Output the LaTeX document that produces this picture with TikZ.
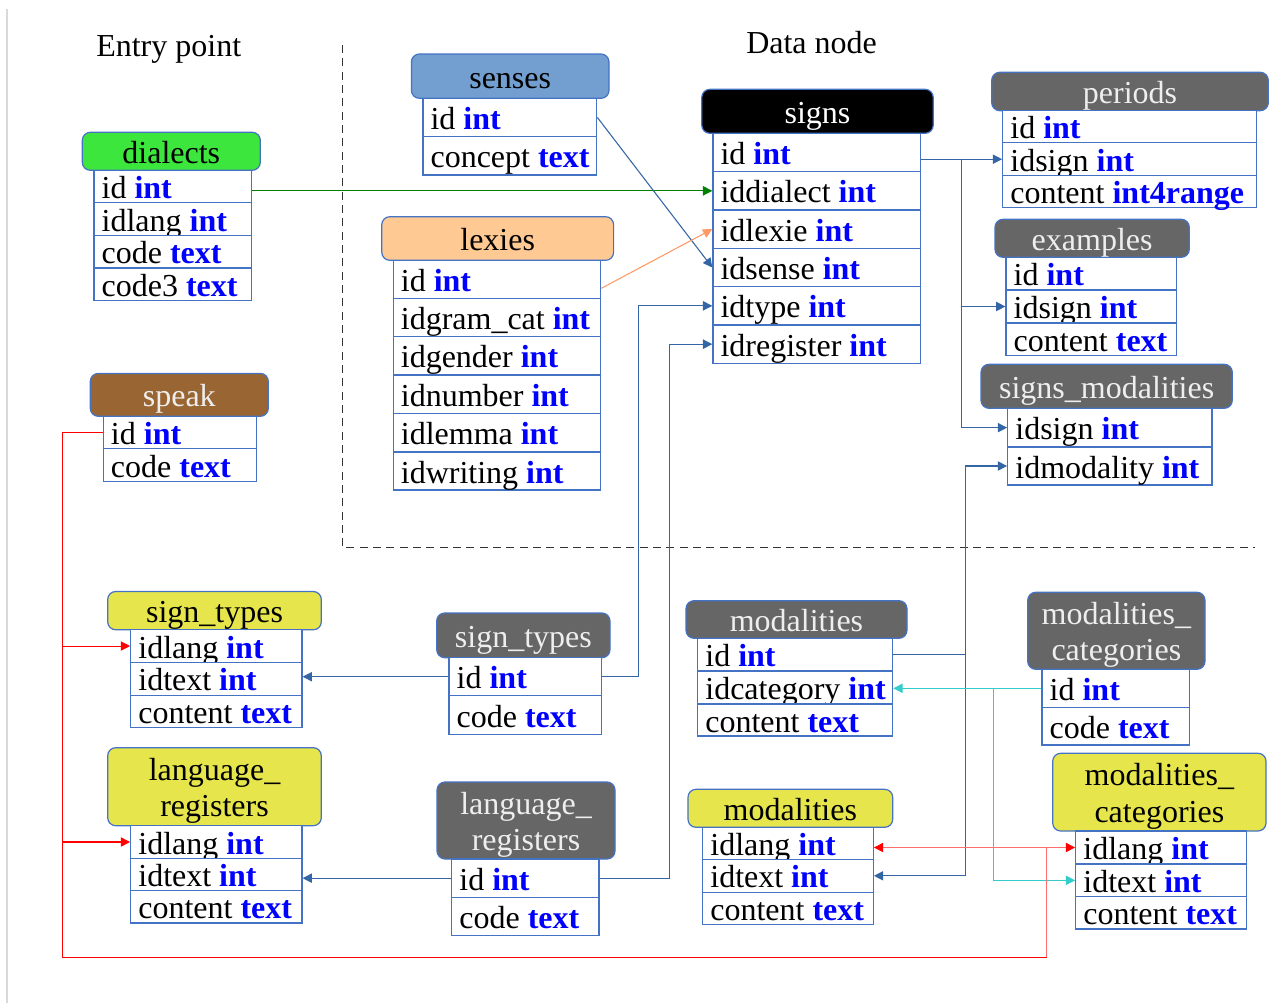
\documentclass[tikz,border=0pt]{standalone}
\usepackage{fontspec}
\setmainfont{Liberation Serif}
\usetikzlibrary{arrows.meta}
\definecolor{bord}{RGB}{68,114,196}
\definecolor{conn}{RGB}{52,101,164}
\definecolor{kw}{RGB}{0,0,255}
\definecolor{hgreen}{RGB}{61,230,61}
\definecolor{hblue}{RGB}{114,159,207}
\definecolor{hpeach}{RGB}{255,201,147}
\definecolor{hgray}{RGB}{102,102,102}
\definecolor{hbrown}{RGB}{153,102,51}
\definecolor{hyellow}{RGB}{230,230,76}
\definecolor{cyanl}{RGB}{51,204,204}
\definecolor{orangel}{RGB}{255,153,102}
\definecolor{greenl}{RGB}{0,128,0}
\definecolor{lighttxt}{RGB}{238,238,238}
\definecolor{pinkl}{RGB}{255,110,110}
\newcommand\mkhdr[8]{%
 \pgfmathsetmacro\myw{(#4-#2)*0.75}\pgfmathsetmacro\myh{(#5-#3)*0.75}%
 \node[hdrst,fill=#6,minimum width=\myw pt,minimum height=\myh pt] (#1) at ({(#2+#4)/2},{(#3+#5)/2}) {};%
 \node[ttl,text=#7] (#1-t) at ([yshift=-9pt]#1.center) {#8};}
\newcommand\mkhdrII[9]{%
 \pgfmathsetmacro\myw{(#4-#2)*0.75}\pgfmathsetmacro\myh{(#5-#3)*0.75}%
 \node[hdrst,fill=#6,minimum width=\myw pt,minimum height=\myh pt] (#1) at ({(#2+#4)/2},{(#3+#5)/2}) {};%
 \node[ttl,text=#7] (#1-t) at ([yshift=4.75pt]#1.center) {#8};%
 \node[ttl,text=#7] (#1-u) at ([yshift=-22.5pt]#1.center) {#9};}
\newcommand\mkrow[7]{%
 \pgfmathsetmacro\myw{(#4-#2)*0.75}\pgfmathsetmacro\myh{(#5-#3)*0.75}%
 \node[rowst,minimum width=\myw pt,minimum height=\myh pt] (#1) at ({(#2+#4)/2},{(#3+#5)/2}) {};%
 \node[rowtxt] (#1-x) at ([shift={(8,12)}]#1.west) {#6 \textbf{\color{kw}#7}};}
\begin{document}
\begin{tikzpicture}[x=0.75pt,y=-0.75pt,font=\fontsize{24}{28}\selectfont,
 hdrst/.style={draw=bord,line width=0.9pt,rounded corners=6pt,inner sep=0pt},
 rowst/.style={draw=bord,line width=0.9pt,fill=white,inner sep=0pt},
 rowtxt/.style={inner sep=0pt,anchor=base west},
 ttl/.style={inner sep=0pt,anchor=base},
 lnk/.style={draw=conn,line width=0.8pt},
 tip/.style={-{Triangle[length=7pt,width=7pt]}},
 redtip/.style={-{Triangle[length=7pt,width=7pt,color=red]}}]
\useasboundingbox (0,0) rectangle (1275,1003);
\draw[black!15,line width=1.5pt] (7,9) -- (7,1003);
\draw[black!80,line width=0.75pt,dash pattern=on 6pt off 4pt] (342,45) -- (342,547.5) -- (1255,547.5);
\node[inner sep=0pt,anchor=base west] (lbl1) at (96,56) {Entry point};
\node[inner sep=0pt,anchor=base west] (lbl2) at (746,53) {Data node};
% dialects
\mkhdr{d}{82.3}{132.3}{260.3}{170.3}{hgreen}{black}{dialects}
\mkrow{d-id}{94}{170.3}{251.3}{202.7}{id}{int}
\mkrow{d-idlang}{94}{202.7}{251.3}{235.3}{idlang}{int}
\mkrow{d-code}{94}{235.3}{251.3}{268}{code}{text}
\mkrow{d-code3}{94}{268}{251.3}{300.3}{code3}{text}
% senses
\mkhdr{se}{411.4}{54}{609}{98.3}{hblue}{black}{senses}
\mkrow{se-id}{422.9}{98.3}{596.8}{136.7}{id}{int}
\mkrow{se-concept}{422.9}{136.7}{596.8}{175}{concept}{text}
% signs
\mkhdr{s}{701.8}{89.3}{933.2}{133.3}{black}{white}{signs}
\mkrow{s-id}{712.9}{133.3}{920.7}{171.7}{id}{int}
\mkrow{s-iddialect}{712.9}{171.7}{920.7}{210}{iddialect}{int}
\mkrow{s-idlexie}{712.9}{210}{920.7}{248.3}{idlexie}{int}
\mkrow{s-idsense}{712.9}{248.3}{920.7}{286.7}{idsense}{int}
\mkrow{s-idtype}{712.9}{286.7}{920.7}{325}{idtype}{int}
\mkrow{s-idregister}{712.9}{325}{920.7}{363.3}{idregister}{int}
% lexies
\mkhdr{l}{381.8}{216.7}{613.6}{260.3}{hpeach}{black}{lexies}
\mkrow{l-id}{393.2}{260.3}{600.7}{298.3}{id}{int}
\mkrow{l-idgram}{393.2}{298.3}{600.7}{336.7}{idgram\_cat}{int}
\mkrow{l-idgender}{393.2}{336.7}{600.7}{375}{idgender}{int}
\mkrow{l-idnumber}{393.2}{375}{600.7}{413.5}{idnumber}{int}
\mkrow{l-idlemma}{393.2}{413.5}{600.7}{452}{idlemma}{int}
\mkrow{l-idwriting}{393.2}{452}{600.7}{490}{idwriting}{int}
% periods
\mkhdr{p}{991.7}{72.3}{1268.3}{110.7}{hgray}{lighttxt}{periods}
\mkrow{p-id}{1002.7}{110.7}{1256.7}{142.7}{id}{int}
\mkrow{p-idsign}{1002.7}{142.7}{1256.7}{175.7}{idsign}{int}
\mkrow{p-content}{1002.7}{175.7}{1256.7}{207.7}{content}{int4range}
% examples
\mkhdr{e}{995}{219.3}{1189.3}{257.3}{hgray}{lighttxt}{examples}
\mkrow{e-id}{1006}{257.3}{1176.3}{290}{id}{int}
\mkrow{e-idsign}{1006}{290}{1176.3}{323}{idsign}{int}
\mkrow{e-content}{1006}{323}{1176.3}{355.3}{content}{text}
% signs_modalities
\mkhdr{sm}{981}{364.3}{1232.3}{408.3}{hgray}{lighttxt}{signs\_modalities}
\mkrow{sm-idsign}{1007.7}{408.3}{1212}{447}{idsign}{int}
\mkrow{sm-idmodality}{1007.7}{447}{1212}{485}{idmodality}{int}
% speak
\mkhdr{sp}{90.3}{373.4}{268.3}{416.3}{hbrown}{lighttxt}{speak}
\mkrow{sp-id}{103.3}{416.3}{256.3}{448.8}{id}{int}
\mkrow{sp-code}{103.3}{448.8}{256.3}{481.3}{code}{text}
% sign_types (yellow)
\mkhdr{yst}{107.7}{591.5}{321.3}{629.8}{hyellow}{black}{sign\_types}
\mkrow{yst-idlang}{130.7}{629.8}{302}{662.3}{idlang}{int}
\mkrow{yst-idtext}{130.7}{662.3}{302}{695.2}{idtext}{int}
\mkrow{yst-content}{130.7}{695.2}{302}{727.4}{content}{text}
% language_registers (yellow)
\mkhdrII{ylr}{107.7}{747.7}{321.3}{825.7}{hyellow}{black}{language\_}{registers}
\mkrow{ylr-idlang}{130.7}{825.7}{302}{858.3}{idlang}{int}
\mkrow{ylr-idtext}{130.7}{858.3}{302}{890.8}{idtext}{int}
\mkrow{ylr-content}{130.7}{890.8}{302}{923}{content}{text}
% sign_types (gray)
\mkhdr{gst}{436.7}{613}{610}{657.7}{hgray}{lighttxt}{sign\_types}
\mkrow{gst-id}{449}{657.7}{601.7}{695.7}{id}{int}
\mkrow{gst-code}{449}{695.7}{601.7}{734.3}{code}{text}
% language_registers (gray)
\mkhdrII{glr}{437}{782}{615}{859}{hgray}{lighttxt}{language\_}{registers}
\mkrow{glr-id}{451.7}{859}{599}{897.3}{id}{int}
\mkrow{glr-code}{451.7}{897.3}{599}{935.7}{code}{text}
% modalities (gray)
\mkhdr{gm}{686}{600.7}{907}{638.3}{hgray}{lighttxt}{modalities}
\mkrow{gm-id}{697.7}{638.3}{892.7}{671}{id}{int}
\mkrow{gm-idcategory}{697.7}{671}{892.7}{704}{idcategory}{int}
\mkrow{gm-content}{697.7}{704}{892.7}{736}{content}{text}
% modalities (yellow)
\mkhdr{ym}{688}{789.3}{892.7}{827.3}{hyellow}{black}{modalities}
\mkrow{ym-idlang}{702.7}{827.3}{873.3}{859.3}{idlang}{int}
\mkrow{ym-idtext}{702.7}{859.3}{873.3}{892.3}{idtext}{int}
\mkrow{ym-content}{702.7}{892.3}{873.3}{924.3}{content}{text}
% modalities_categories (gray)
\mkhdrII{gmc}{1027.7}{592.3}{1205}{669.3}{hgray}{lighttxt}{modalities\_}{categories}
\mkrow{gmc-id}{1042}{669.3}{1189.3}{707.3}{id}{int}
\mkrow{gmc-code}{1042}{707.3}{1189.3}{745}{code}{text}
% modalities_categories (yellow)
\mkhdrII{ymc}{1052.7}{753.3}{1266}{831}{hyellow}{black}{modalities\_}{categories}
\mkrow{ymc-idlang}{1075.7}{831}{1246.7}{864}{idlang}{int}
\mkrow{ymc-idtext}{1075.7}{864}{1246.7}{896.7}{idtext}{int}
\mkrow{ymc-content}{1075.7}{896.7}{1246.7}{929}{content}{text}
% junction coordinates
\coordinate (jA) at (961.7,0);
\coordinate (jT) at (638.3,0);
\coordinate (jR) at (669.3,0);
\coordinate (jM) at (965.7,0);
\coordinate (jC) at (993.7,0);
\coordinate (jL) at (62.3,0);
\coordinate (jRR) at (1046.7,0);
\coordinate (bot) at (0,957.3);
% connectors
\draw[lnk,draw=greenl,tip] (s-iddialect.west -| d-id.east) -- (s-iddialect.west);
\draw[lnk,tip] (se-id.east) -- (s-idsense.west);
\draw[lnk,draw=orangel,tip] ([yshift=-6.75pt]l-id.east) -- (s-idlexie.west);
\draw[lnk,tip] (p-idsign.west -| s-id.east) -- (p-idsign.west);
\draw[lnk,tip] (jA |- p-idsign.west) |- (e-idsign.west);
\draw[lnk,tip] (jA |- p-idsign.west) |- (sm-idsign.west);
\draw[lnk,tip] (gst-id.east) -| (jT |- s-idtype.west) -- (s-idtype.west);
\draw[lnk,tip] (gst-id.west) -- (gst-id.west -| yst-idtext.east);
\draw[lnk,tip] (glr-id.east) -| (jR |- s-idregister.west) -- (s-idregister.west);
\draw[lnk,tip] (glr-id.west) -- (glr-id.west -| ylr-idtext.east);
\draw[lnk,tip] (gm-id.east) -| (jM |- sm-idmodality.west) -- (sm-idmodality.west);
\draw[lnk,tip] (gm-id.east) -| (jM |- ym-idtext.east) -- (ym-idtext.east);
\draw[lnk,draw=cyanl,tip] (gmc-id.west) -- (gmc-id.west -| gm-idcategory.east);
\draw[lnk,draw=cyanl,tip] (jC |- gmc-id.west) |- (ymc-idtext.west);
\draw[lnk,draw=red] (sp-id.west) -| (jL |- bot) -- (jRR |- bot);
\draw[lnk,draw=pinkl,redtip] (jRR |- bot) -- (jRR |- ymc-idlang.west) -- (ymc-idlang.west);
\draw[lnk,draw=pinkl,redtip] (jRR |- ymc-idlang.west) -- (ymc-idlang.west -| ym-idlang.east);
\draw[lnk,draw=red,tip] (jL |- yst-idlang.west) -- (yst-idlang.west);
\draw[lnk,draw=red,tip] (jL |- ylr-idlang.west) -- (ylr-idlang.west);
\end{tikzpicture}
\end{document}
